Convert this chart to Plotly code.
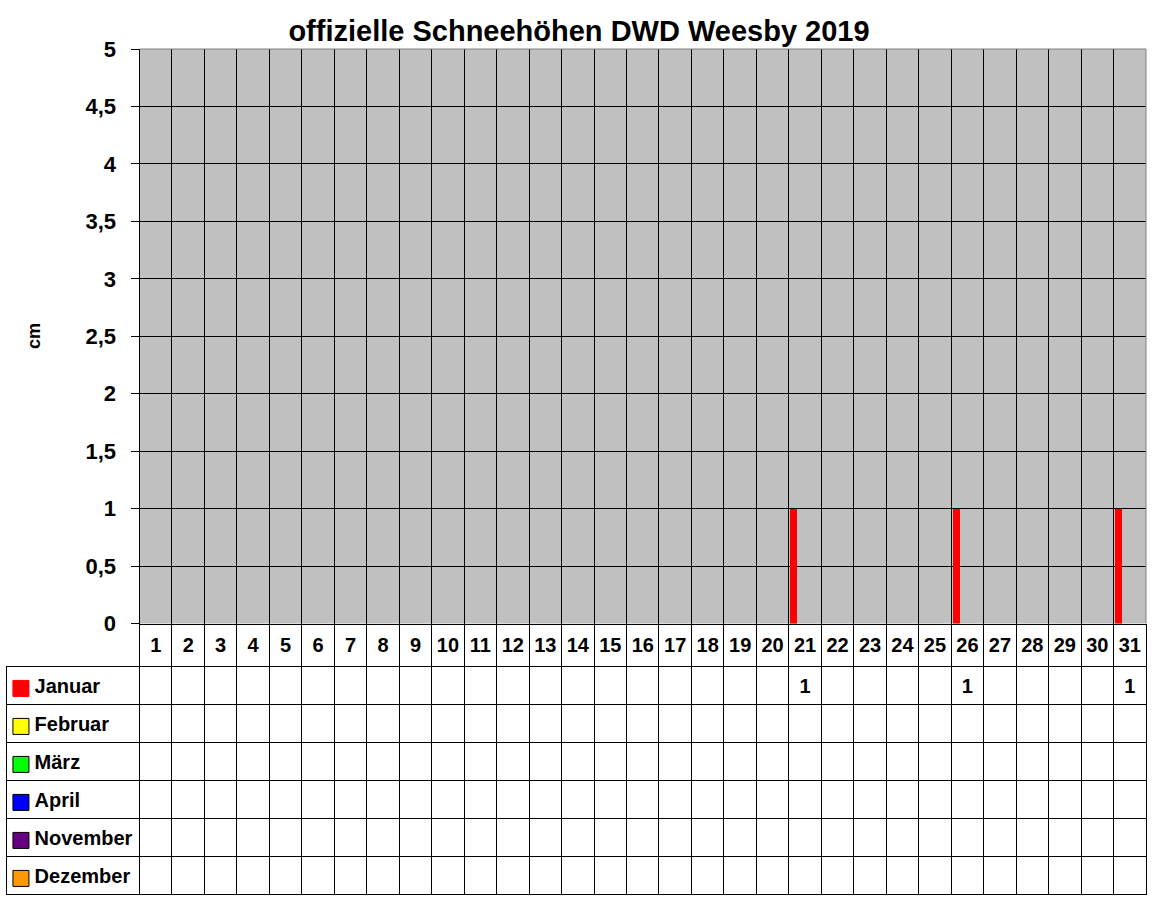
import plotly.graph_objects as go

# Schneehoehen in cm je Tag (None = kein Schnee / kein Wert)
days = list(range(1, 32))
month_names = ["Januar", "Februar", "März", "April", "November", "Dezember"]
month_colors = ["#FF0000", "#FFFF00", "#00FF00", "#0000FF", "#660080", "#FF9900"]

N = None
januar = [N, N, N, N, N, N, N, N, N, N, N, N, N, N, N, N, N, N, N, N,
          1, N, N, N, N, 1, N, N, N, N, 1]
februar = [N] * 31
maerz = [N] * 31
april = [N] * 31
november = [N] * 31
dezember = [N] * 31
month_values = [januar, februar, maerz, april, november, dezember]

y_ticks = [0, 0.5, 1, 1.5, 2, 2.5, 3, 3.5, 4, 4.5, 5]

# geometry (pixels of the 1152x900 page)
W, H = 1152, 900
ML, MR, MT, MB = 6, 6, 49, 6
plot_left = 139.5
split_px = 623.5
header_h, row_h = 42.5, 38.0

x_dom0 = (plot_left - ML) / (W - ML - MR)
y_split = (H - MB - split_px) / (H - MT - MB)
tab_top = len(month_names) + header_h / row_h
tab_left = 0.5 - len(days) * x_dom0 / (1 - x_dom0)

FONT = "Liberation Sans, Arial, sans-serif"
bounds = [d - 0.5 for d in days]
row_shift = -0.09  # text sits a little below the row middle

fig = go.Figure()

# bars (top chart)
for i, (name, vals, col) in enumerate(zip(month_names, month_values, month_colors)):
    fig.add_trace(go.Bar(
        x=days, y=vals, name=name, marker=dict(color=col, line=dict(width=0)),
        width=0.215, offset=-0.469 + i * 0.155,
        xaxis="x", yaxis="y", showlegend=False))

# data table: day numbers in header row
fig.add_trace(go.Scatter(
    x=days, y=[(tab_top + len(month_names)) / 2 - 0.05] * len(days),
    text=[str(d) for d in days], mode="text",
    textfont=dict(family=FONT, size=20, color="black", weight="bold"),
    xaxis="x2", yaxis="y2", showlegend=False, hoverinfo="skip"))

# data table: values and month labels
row_y = [len(month_names) - 0.5 - i + row_shift for i in range(len(month_names))]
for i, (name, vals, col) in enumerate(zip(month_names, month_values, month_colors)):
    xs = [d for d, v in zip(days, vals) if v is not None]
    txt = [("%g" % v).replace(".", ",") for v in vals if v is not None]
    if xs:
        fig.add_trace(go.Scatter(
            x=xs, y=[row_y[i]] * len(xs), text=txt, mode="text",
            textfont=dict(family=FONT, size=20, color="black", weight="bold"),
            xaxis="x2", yaxis="y2", showlegend=False, hoverinfo="skip"))
    fig.add_trace(go.Scatter(
        x=[tab_left + 0.46], y=[row_y[i]], mode="markers",
        marker=dict(symbol="square", size=16, color=col,
                    line=dict(color=col if i == 0 else "black", width=1)),
        xaxis="x2", yaxis="y2", showlegend=False, hoverinfo="skip"))
    fig.add_trace(go.Scatter(
        x=[tab_left + 0.88], y=[row_y[i]], text=[name], mode="text",
        textposition="middle right",
        textfont=dict(family=FONT, size=20, color="black", weight="bold"),
        xaxis="x2", yaxis="y2", showlegend=False, hoverinfo="skip"))

fig.update_layout(
    width=W, height=H,
    autosize=False,
    margin=dict(l=ML, r=MR, t=MT, b=MB, autoexpand=False),
    paper_bgcolor="white",
    plot_bgcolor="white",
    separators=",.",
    barmode="group",
    bargap=0, bargroupgap=0,
    hovermode=False,
    font=dict(family=FONT, color="black"),
    title=dict(text="offizielle Schneehöhen DWD Weesby 2019",
               x=579 / W, xref="container", xanchor="center",
               y=1 - 31 / H, yref="container", yanchor="middle",
               font=dict(family=FONT, size=29, color="black", weight="bold")),
    xaxis=dict(domain=[x_dom0, 1], anchor="y", range=[0.5, 31.5], automargin=False,
               tickvals=bounds, showticklabels=False, ticks="",
               showgrid=True, gridcolor="black", gridwidth=1,
               showline=True, linecolor="black", linewidth=1, zeroline=False),
    yaxis=dict(domain=[y_split, 1], anchor="x", range=[0, 5], automargin=False,
               tickvals=y_ticks, ticks="outside", ticklen=8, tickcolor="black",
               ticklabelstandoff=10,
               tickfont=dict(family=FONT, size=22, color="black", weight="bold"),
               showgrid=True, gridcolor="black", gridwidth=1,
               showline=True, linecolor="black", linewidth=1, zeroline=False),
    xaxis2=dict(domain=[0, 1], anchor="y2", range=[tab_left, 31.5], automargin=False,
                tickvals=bounds + [31.5], showticklabels=False, ticks="",
                showgrid=True, gridcolor="black", gridwidth=1,
                showline=True, linecolor="black", linewidth=1, zeroline=False),
    yaxis2=dict(domain=[0, y_split], anchor="x2", range=[0, tab_top], automargin=False,
                tickvals=list(range(len(month_names) + 1)), showticklabels=False,
                ticks="", side="right",
                showgrid=True, gridcolor="black", gridwidth=1,
                showline=True, linecolor="black", linewidth=1, zeroline=False),
    annotations=[dict(text="<b>cm</b>", textangle=-90, showarrow=False,
                      xref="paper", x=(22 - ML) / (W - ML - MR),
                      yref="paper", y=(H - MB - 336) / (H - MT - MB),
                      font=dict(family=FONT, size=18, color="black"))],
    shapes=[
        # plot area: grey top and right border
        dict(type="line", xref="x domain", yref="y domain", x0=0, x1=1, y0=1, y1=1,
             line=dict(color="#808080", width=1)),
        dict(type="line", xref="x domain", yref="y domain", x0=1, x1=1, y0=0, y1=1,
             line=dict(color="#808080", width=1)),
        # left border of the table legend column
        dict(type="line", xref="x2", yref="y2", x0=tab_left, x1=tab_left,
             y0=0, y1=len(month_names), line=dict(color="black", width=2)),
    ],
)

# grey plot background only for the chart part
fig.add_shape(type="rect", xref="x domain", yref="y domain", x0=0, x1=1, y0=0, y1=1,
              fillcolor="#C0C0C0", line=dict(width=0), layer="below")

# page margin off, so the figure sits at the top left corner of the window
fig.write_html("out.html", config={"displayModeBar": False},
               post_script="document.body.style.margin='0';")
